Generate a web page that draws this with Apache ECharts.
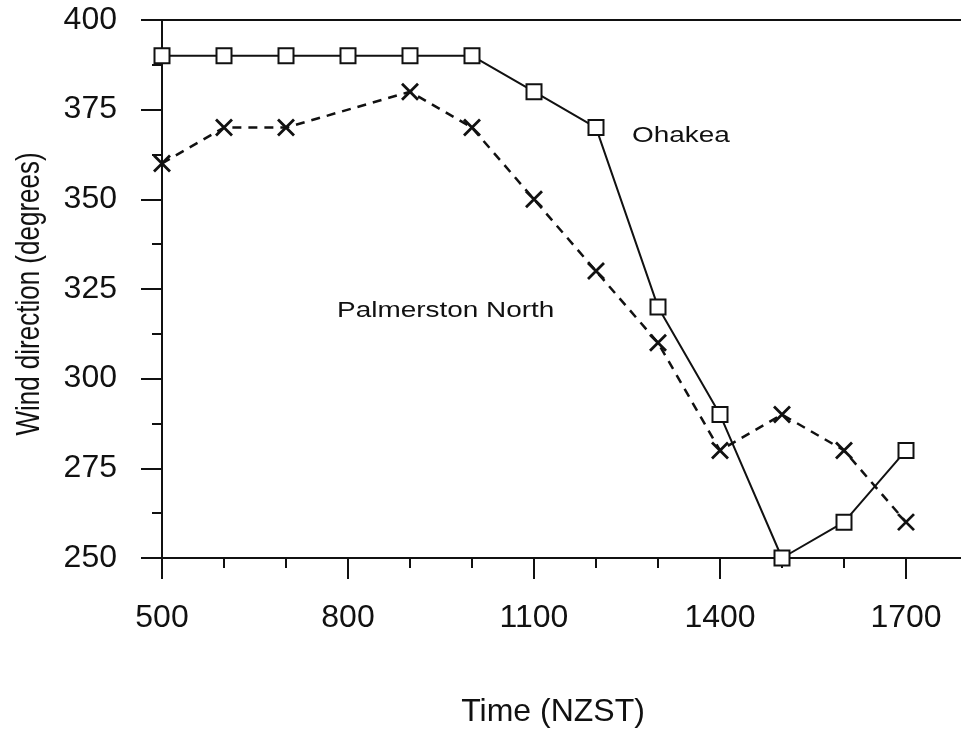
<!DOCTYPE html>
<html><head><meta charset="utf-8">
<script src="https://cdn.jsdelivr.net/npm/echarts@6/dist/echarts.min.js"></script>
<style>html,body{margin:0;padding:0;background:#fff}#c{width:961px;height:732px}</style>
</head><body><div id="c"></div>
<script>
const ohakeaTimes = [500,600,700,800,900,1000,1100,1200,1300,1400,1500,1600,1700];
const ohakeaDir   = [390,390,390,390,390,390,380,370,320,290,250,260,280];
const pnTimes = [500,600,700,900,1000,1100,1200,1300,1400,1500,1600,1700];
const pnDir   = [360,370,370,380,370,350,330,310,280,290,280,260];
const xMajorTicks = [500,800,1100,1400,1700];
const xMinorTicks = [600,700,900,1000,1200,1300,1500,1600,1800];

const font = 'Liberation Sans, Arial, Helvetica, sans-serif';
const chart = echarts.init(document.getElementById('c'));
const ax = {lineStyle:{color:'#111',width:2}};
chart.setOption({
  animation:false,
  backgroundColor:'#fff',
  grid:{left:162, top:20, right:-7, bottom:174, containLabel:false, outerBoundsMode:'none'},
  xAxis:[{
    type:'value', min:500, max:1800, interval:100,
    axisLine:ax, splitLine:{show:false},
    axisTick:{show:true, inside:false, length:21, customValues:xMajorTicks, lineStyle:{color:'#111',width:2}},
    axisLabel:{customValues:xMajorTicks, formatter:v=>String(v), color:'#111', fontSize:32, fontFamily:font, margin:44}
  },{
    type:'value', min:500, max:1800, interval:100, position:'bottom',
    axisLine:{show:false}, splitLine:{show:false},
    axisTick:{show:true, length:10, customValues:xMinorTicks, lineStyle:{color:'#111',width:2}},
    axisLabel:{show:false}
  },{
    type:'value', min:500, max:1800, position:'top',
    axisLine:ax, splitLine:{show:false}, axisTick:{show:false}, axisLabel:{show:false}
  }],
  yAxis:[{
    type:'value', min:250, max:400, interval:25,
    axisLine:{show:true, lineStyle:{color:'#111',width:2}}, splitLine:{show:false},
    axisTick:{show:true, length:21, lineStyle:{color:'#111',width:2}},
    minorTick:{show:true, splitNumber:2, length:10, lineStyle:{color:'#111',width:2}},
    axisLabel:{formatter:v=>String(v), color:'#111', fontSize:32, fontFamily:font, margin:45}
  }],
  series:[{
    name:'Ohakea', type:'line', xAxisIndex:0,
    data: ohakeaTimes.map((t,i)=>[t, ohakeaDir[i]]),
    lineStyle:{color:'#111', width:2},
    symbol:'rect', symbolSize:15, showAllSymbol:true,
    itemStyle:{color:'#fff', borderColor:'#111', borderWidth:2},
    clip:false, z:3
  },{
    name:'Palmerston North', type:'line', xAxisIndex:0,
    data: pnTimes.map((t,i)=>[t, pnDir[i]]),
    lineStyle:{color:'#111', width:2.5, type:[9,7]},
    symbol:'path://M0,0L10,10M10,0L0,10', symbolSize:16, showAllSymbol:true,
    itemStyle:{color:'none', borderColor:'#111', borderWidth:2.8},
    clip:false, z:2
  }],
  graphic:[
    {type:'text', x:30, y:294, rotation:Math.PI/2, scaleY:1.3, style:{text:'Wind direction (degrees)', fill:'#111', font:'26px '+font, textAlign:'center', textVerticalAlign:'middle'}},
    {type:'text', x:553, y:712, style:{text:'Time (NZST)', fill:'#111', font:'32px '+font, textAlign:'center', textVerticalAlign:'middle'}},
    {type:'text', x:632, y:136, scaleX:1.27, style:{text:'Ohakea', fill:'#111', font:'22px '+font, textVerticalAlign:'middle'}},
    {type:'text', x:337, y:311, scaleX:1.27, style:{text:'Palmerston North', fill:'#111', font:'22px '+font, textVerticalAlign:'middle'}}
  ]
});
</script></body></html>
